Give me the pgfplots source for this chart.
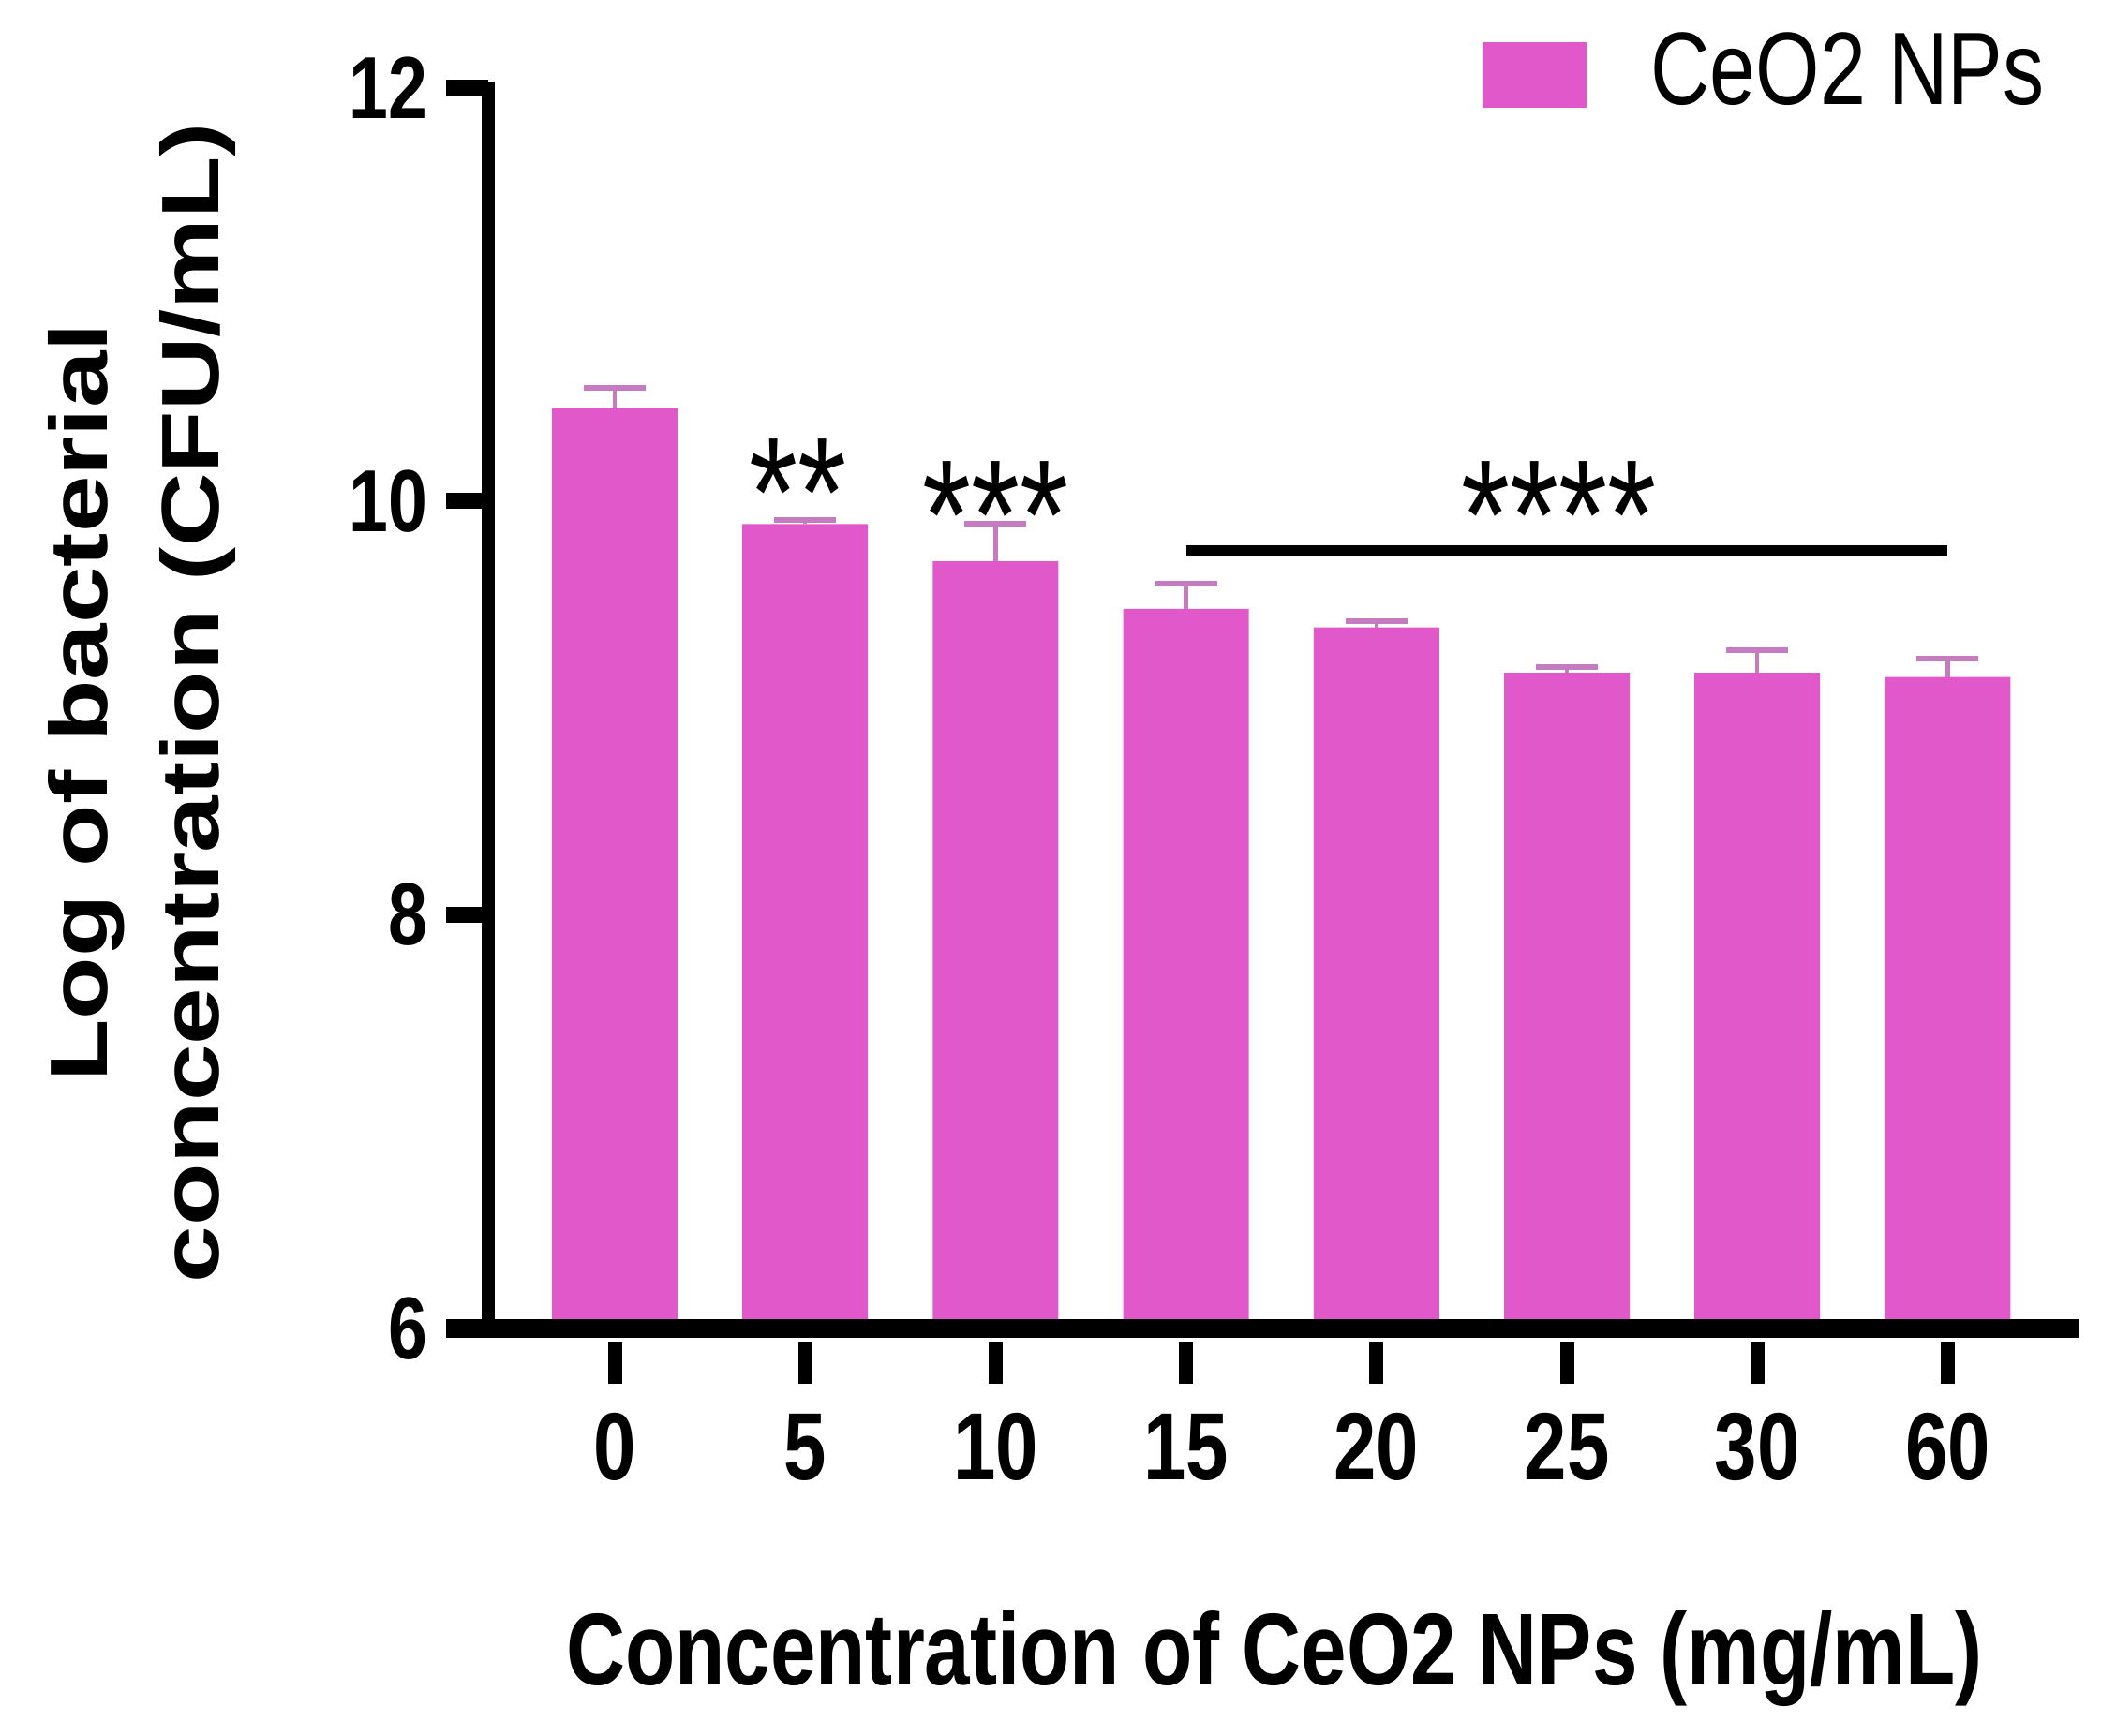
\documentclass[border=0pt]{standalone}
\usepackage{fontspec}
\setmainfont{Liberation Sans}
\newfontfamily\cond[FakeStretch=0.8]{Liberation Sans}
\newfontfamily\widef[FakeStretch=1.25]{Liberation Sans}
\usepackage{pgfplots}
\pgfplotsset{compat=1.18}
\definecolor{barpink}{HTML}{E058CA}
\definecolor{errpink}{HTML}{C57BBF}
\begin{document}
\begin{tikzpicture}
\useasboundingbox (0,0) rectangle (225.8bp,185.3bp);
\begin{axis}[
  at={(52.1bp,43.5bp)}, anchor=south west,
  scale only axis, width=169.8bp, height=132.45bp,
  xmin=-0.6644, xmax=7.692, ymin=6, ymax=12,
  axis line style={draw=none},
  xtick={0,1,2,3,4,5,6,7}, xticklabels={0,5,10,15,20,25,30,60},
  ytick={6,8,10,12}, yticklabels={6,8,10,12},
  xtick pos=lower, ytick pos=left,
  tick align=outside, major tick length=4.5bp,
  x tick style={line width=1.5bp, black, yshift=-1.4bp},
  y tick style={line width=1.7bp, black},
  xticklabel style={anchor=base, inner sep=0pt, font=\cond\bfseries\fontsize{10.2bp}{12bp}\selectfont},
  yticklabel style={anchor=east, inner sep=0pt, font=\cond\bfseries\fontsize{9.4bp}{11bp}\selectfont},
  xticklabel shift=11.7bp, yticklabel shift=1.8bp,
  legend style={at={(rel axis cs:0.6249,1.0094)}, anchor=west, draw=none, fill=none,
    inner sep=0pt, outer sep=0pt, column sep=6.8bp,
    font=\cond\fontsize{11bp}{13bp}\selectfont, nodes={inner sep=0pt}},
  legend image code/.code={\fill[barpink] (0bp,-3.4bp) rectangle (11.1bp,3.6bp);},
]
\addplot[ybar, bar width=13.4bp, bar shift=0pt, fill=barpink, draw=none,
  error bars/.cd, y dir=plus, y explicit,
  error bar style={errpink, line width=0.45bp},
  error mark options={errpink, rotate=90, mark size=3.3bp, line width=0.6bp}]
  coordinates {
  (0,10.45) +- (0,0.10)
  (1,9.89) +- (0,0.02)
  (2,9.71) +- (0,0.18)
  (3,9.48) +- (0,0.12)
  (4,9.39) +- (0,0.03)
  (5,9.17) +- (0,0.03)
  (6,9.17) +- (0,0.11)
  (7,9.15) +- (0,0.09)
  };
\addlegendentry{CeO2 NPs}
\draw[line width=1.2bp, black] (axis cs:3,9.76) -- (axis cs:7,9.76);
\node[anchor=base, inner sep=0pt, font=\cond\fontsize{16.7bp}{18bp}\selectfont] at (axis cs:0.96,9.78) {**};
\node[anchor=base, inner sep=0pt, font=\cond\fontsize{16.7bp}{18bp}\selectfont] at (axis cs:2,9.67) {***};
\node[anchor=base, inner sep=0pt, font=\cond\fontsize{16.7bp}{18bp}\selectfont] at (axis cs:4.96,9.67) {****};
\coordinate (xa) at (axis cs:-0.886,6);
\coordinate (xb) at (axis cs:7.692,6);
\coordinate (ya) at (axis cs:-0.6644,6);
\coordinate (yb) at (axis cs:-0.6644,12);
\end{axis}
\draw[line width=2bp, black] (xa) -- (xb);
\draw[line width=1.45bp, black] (ya) -- ([yshift=0.6bp]yb);
\node[rotate=90, align=center, font=\widef\bfseries\fontsize{8.7bp}{11.9bp}\selectfont] at (15.15bp,110.3bp) {Log of bacterial\\concentration (CFU/mL)};
\node[anchor=base, inner sep=0pt, font=\cond\bfseries\fontsize{10.9bp}{13bp}\selectfont] at (136bp,5.5bp) {Concentration of CeO2 NPs (mg/mL)};
\end{tikzpicture}
\end{document}
